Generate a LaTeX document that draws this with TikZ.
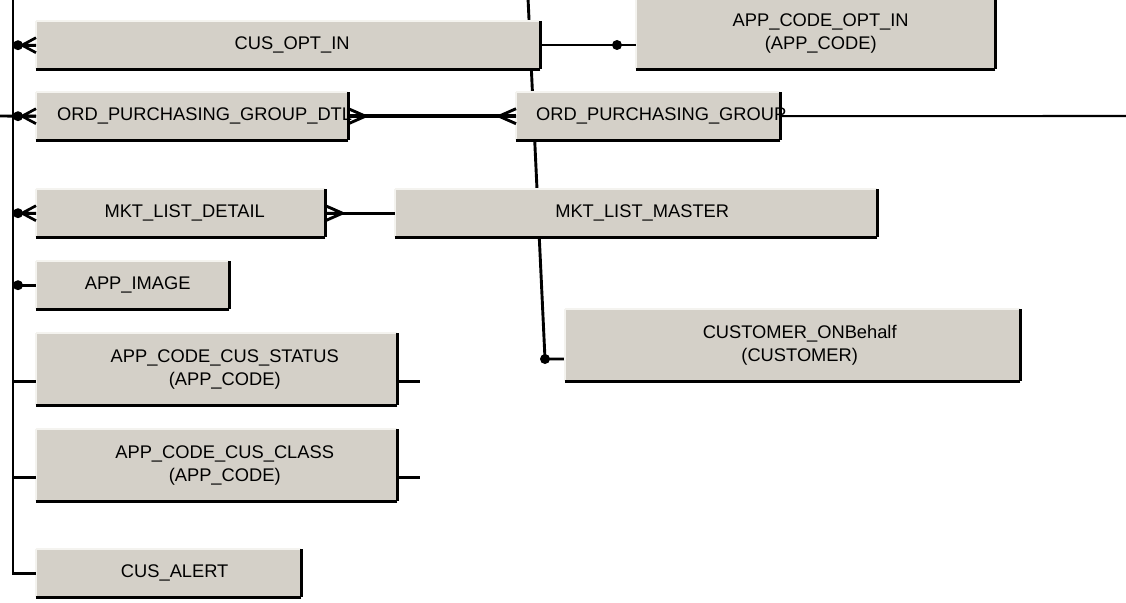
\documentclass[tikz,border=0pt]{standalone}
\usepackage{fontspec}
\setmainfont{Liberation Sans}
\usetikzlibrary{calc}
\definecolor{boxc}{HTML}{D4D0C8}
\definecolor{lte}{HTML}{F4F3EF}
\pgfdeclarelayer{background}
\pgfsetlayers{background,main}
\newcommand\entity[7]{% name, x, y, w, h, text, text xshift
  \node[ebox, minimum width=#4pt, minimum height=#5pt] (#1) at (#2,#3) {};
  \node[etext] (#1t) at ($(#1.center)+(#7,0)$) {#6};}
\begin{document}
\begin{tikzpicture}[x=1pt,y=-1pt,
  lt/.style={draw=lte, line width=1.5pt},
  dk/.style={draw=black, line width=2.8pt},
  ebox/.style={fill=boxc, draw=none, inner sep=0pt, anchor=north west,
    append after command={
      (\tikzlastnode.south west) edge[lt] (\tikzlastnode.north west)
      (\tikzlastnode.north west) edge[lt] (\tikzlastnode.north east)
      (\tikzlastnode.north east) edge[dk] (\tikzlastnode.south east)
      (\tikzlastnode.south east) edge[dk] (\tikzlastnode.south west)}},
  etext/.style={inner sep=0pt, align=center, font=\fontsize{18.3}{23}\selectfont, text=black},
  conn/.style={draw=black, line width=2.9pt},
  fatconn/.style={draw=black, line width=3.8pt},
  thinconn/.style={draw=black, line width=2.1pt},
  pics/crowdot/.style={code={
    \draw[line width=2.7pt] (-14,0) -- (0,-7.5) (-14,0) -- (0,0) (-14,0) -- (0,7.5);
    \fill (-18,0) circle (5pt);}},
  pics/dotonly/.style={code={\fill (-18,0) circle (5pt);}},
  pics/crow/.style={code={
    \draw[line width=2.9pt] (-17,0) -- (0,-7.5) (-17,0) -- (0,0) (-17,0) -- (0,7.5);}}
]
\useasboundingbox (0,0) rectangle (1126,602);

% entities
\entity{coi}{36}{21}{504}{48}{CUS\_OPT\_IN}{4}
\entity{aco}{636}{-3}{359}{72}{APP\_CODE\_OPT\_IN\\(APP\_CODE)}{5}
\node[ebox, minimum width=312pt, minimum height=48pt] (opgd) at (36,92) {};
\node[etext, anchor=west] (opgdt) at ($(opgd.west)+(21,0)$) {ORD\_PURCHASING\_GROUP\_DTL};
\node[ebox, minimum width=264pt, minimum height=48pt] (opg) at (516,92) {};
\node[etext, anchor=west] (opgt) at ($(opg.west)+(20,0)$) {ORD\_PURCHASING\_GROUP};
\entity{mld}{36}{189}{289}{48}{MKT\_LIST\_DETAIL}{4}
\entity{mlm}{395}{189}{482}{48}{MKT\_LIST\_MASTER}{6}
\entity{aim}{36}{261}{193}{48}{APP\_IMAGE}{5}
\entity{cob}{565}{309}{455}{72}{CUSTOMER\_ONBehalf\\(CUSTOMER)}{7}
\entity{acs}{36}{333}{361}{72}{APP\_CODE\_CUS\_STATUS\\(APP\_CODE)}{8}
\entity{acc}{36}{429}{361}{72}{APP\_CODE\_CUS\_CLASS\\(APP\_CODE)}{8}
\entity{cal}{36}{549}{265}{48}{CUS\_ALERT}{6}

% free ends
\coordinate (ltop) at (13,-2);
\coordinate (lend) at (-2,116);
\coordinate (rend) at (1128,116);
\coordinate (stop) at (528,-2);
\coordinate (sbend) at (545,359);
\coordinate (acsx) at ($(acs.east)+(23,12)$);
\coordinate (accx) at ($(acc.east)+(23,12)$);

% slanted relationship line behind the boxes
\begin{pgfonlayer}{background}
\draw[conn] (stop) -- (sbend) -- (sbend -| cob.west);
\end{pgfonlayer}
\fill (sbend) circle (5pt);

% left bus
\draw[conn, line join=miter] (ltop) -- (ltop |- cal.west) -- (cal.west);
\draw[conn] (ltop |- coi.west) -- (coi.west);
\draw[conn] (lend) -- (opgd.west);
\draw[conn] (ltop |- mld.west) -- (mld.west);
\draw[conn] (ltop |- aim.west) -- (aim.west);
\draw[conn] ($(ltop |- acs.west)+(0,12)$) -- ($(acs.west)+(0,12)$);
\draw[conn] ($(ltop |- acc.west)+(0,12)$) -- ($(acc.west)+(0,12)$);
\pic at (coi.west) {crowdot};
\pic at (opgd.west) {crowdot};
\pic at (mld.west) {crowdot};
\pic at (aim.west) {dotonly};

% right stubs
\draw[conn] ($(acs.east)+(0,12)$) -- (acsx);
\draw[conn] ($(acc.east)+(0,12)$) -- (accx);

% other relationships
\draw[thinconn] (coi.east |- 0,45) -- (aco.west |- 0,45);
\fill ($(aco.west |- 0,45)+(-19,0)$) circle (5pt);
\draw[fatconn] (opgd.east) -- (opg.west);
\pic[rotate=180] at (opgd.east) {crow};
\pic at (opg.west) {crow};
\draw[thinconn] (opg.east) -- (rend);
\draw[conn] (mld.east) -- (mlm.west);
\pic[rotate=180] at (mld.east) {crow};
\end{tikzpicture}
\end{document}
